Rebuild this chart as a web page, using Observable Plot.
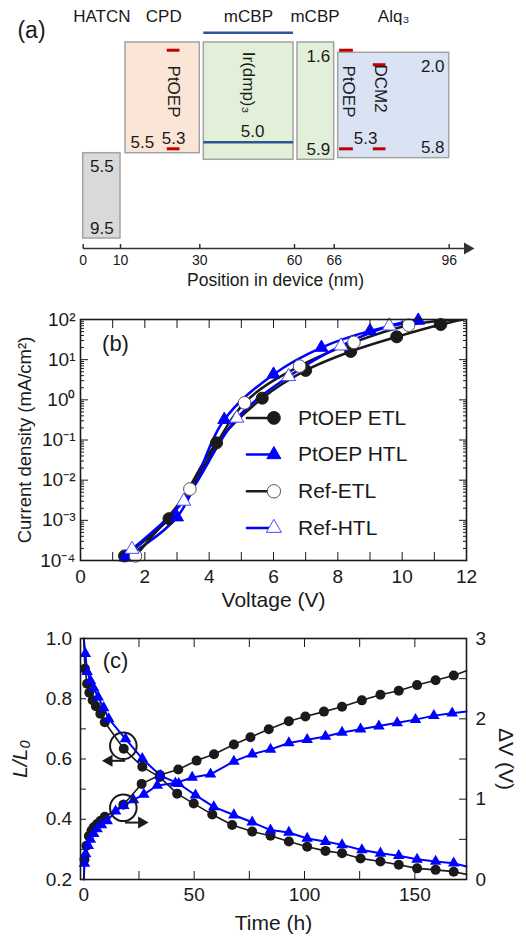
<!DOCTYPE html>
<html><head><meta charset="utf-8">
<script src="https://cdn.jsdelivr.net/npm/d3@7"></script>
<script src="https://cdn.jsdelivr.net/npm/@observablehq/plot@0.6"></script>
<style>
body{margin:0;background:#fff;}
#chart{width:526px;}
#chart svg{display:block;}
</style></head><body><div id="chart"></div>
<script>
// ================= Panel (a): energy diagram =================
const layerNames = ["HATCN", "CPD", "mCBP", "mCBP", "Alq₃"];
const layerStart = [0, 10, 30, 60, 66];      // nm
const layerEnd = [10, 30, 60, 66, 96];       // nm
const layerTop = [5.5, 1.6, 1.6, 1.6, 2.0];  // eV (LUMO)
const layerBottom = [9.5, 5.5, 5.9, 5.9, 5.8]; // eV (HOMO)
const layerLabelX = [5, 20.9, 45.4, 63.1, 81.5];
const positionTicks = [0, 10, 30, 60, 66, 96];

const dopantNames = ["PtOEP", "Ir(dmp)₃", "PtOEP", "DCM2"];
const dopantStart = [21.8, 30, 67.4, 76.2];
const dopantEnd = [25, 60, 71, 79.5];
const dopantLumo = [1.9, 1.2, 1.9, 2.4];
const dopantHomo = [5.3, 5.0, 5.3, 5.3];
const dopantLabelX = [23.4, 45.4, 69.6, 78.1];
const dopantLabelE = [3.3, 3.0, 3.3, 3.2];

const levelText = ["5.5", "9.5", "5.5", "5.3", "5.0", "1.6", "5.9", "2.0", "5.8", "5.3"];
const levelX = [5, 5, 15.5, 23.4, 46.7, 63.6, 63.6, 91.7, 91.7, 74.2];
const levelE = [5.5, 9.5, 5.5, 5.3, 5.0, 1.6, 5.9, 2.0, 5.8, 5.3];
const levelSide = ["below", "above", "above", "above", "above", "below", "above", "below", "above", "above"];

// styles (a)
const layerFill = ["#d9d9d9", "#fbe5d6", "#e2efd9", "#e2efd9", "#dae3f3"];
const layerInsetL = [0, 5, 4, 3, 4];
const layerInsetR = [0, 0, 1, 0, 0];

// ================= Panel (b): J-V =================
const etlV = [1.37, 2.75, 4.23, 5.65, 7.0, 8.4, 9.83, 11.2];
const etlJ = [1.3e-4, 1.1e-3, 8.5e-2, 1.1, 5.4, 16, 37, 75];
const htlV = [1.4, 3.0, 4.47, 6.0, 7.49, 9.0, 10.5];
const htlJ = [1.2e-4, 1.2e-3, 0.32, 4.3, 20, 52, 95];
const refEtlV = [1.71, 3.40, 5.1, 6.81, 8.5, 10.2];
const refEtlJ = [1.3e-4, 6e-3, 0.84, 6.9, 27, 72];
const refHtlV = [1.6, 3.21, 4.86, 6.47, 8.1, 9.6];
const refHtlJ = [1.9e-4, 3e-3, 0.35, 3.8, 22, 69];
// where each curve leaves the frame at the top
const curveEndV = [11.9, 11.3, 11.7, 11.2];
const curveEndJ = [100, 150, 100, 130];
const seriesNames = ["PtOEP ETL", "PtOEP HTL", "Ref-ETL", "Ref-HTL"];
const decades = [1e-4, 1e-3, 1e-2, 1e-1, 1, 10, 100];
const voltTicks = [0,1,2,3,4,5,6,7,8,9,10,11,12];

// ================= Panel (c): lifetime =================
const decayEtlT = [0.5,1.5,2.5,4,5.5,7.5,9.5,18.1,26.5,34.4,42.3,49.8,58.2,67.2,76.3,84.6,92.9,101.2,109.5,117,125.4,134.4,142.7,151,159.4,167.6];
const decayEtlL = [0.90,0.85,0.82,0.795,0.775,0.75,0.722,0.634,0.574,0.54,0.485,0.452,0.416,0.381,0.359,0.345,0.326,0.309,0.295,0.287,0.27,0.26,0.249,0.237,0.232,0.226];
const decayHtlT = [0.7,1.5,3,4.5,6.5,9,11.3,18.9,26.5,34.7,43,50.6,58.9,68,76.3,84.6,92.9,101.2,109.5,117,126,134.4,142.7,151,159.4,167.6];
const decayHtlL = [0.95,0.89,0.86,0.835,0.805,0.77,0.733,0.667,0.601,0.545,0.518,0.48,0.441,0.414,0.39,0.364,0.356,0.336,0.326,0.315,0.298,0.287,0.279,0.267,0.26,0.254];
const riseEtlT = [0.3,1.2,2.3,3.5,4.5,6,7.6,9.5,17.9,26.2,34.5,42.8,51.1,59,68,75.5,83.8,92.9,100.4,108.8,117,126,134.4,142.7,151,159.4,167.6];
const riseEtlV = [0.25,0.42,0.54,0.61,0.65,0.69,0.73,0.78,0.93,1.19,1.30,1.37,1.48,1.56,1.68,1.77,1.87,1.97,2.03,2.09,2.15,2.23,2.30,2.35,2.42,2.48,2.54];
const riseHtlT = [0.3,0.8,2,3,4.5,6,8,10.6,14.4,18.1,22.5,27.2,33.3,41.5,49.1,57.4,68,76.3,84.6,92.9,101.2,109.5,117,125.4,133.7,142,150.3,158.6,166.9];
const riseHtlV = [0.2,0.32,0.42,0.5,0.57,0.63,0.68,0.73,0.85,0.92,0.99,1.06,1.17,1.2,1.27,1.31,1.47,1.56,1.62,1.70,1.74,1.78,1.83,1.87,1.91,1.95,1.99,2.04,2.07];
// curve start / end points (t, value)
const decayStart = [0, 1.0];
const decayEtlEnd = [173.4, 0.217];
const decayHtlEnd = [173.4, 0.243];
const riseStart = [0, 0];
const riseEtlEnd = [173.4, 2.6];
const riseHtlEnd = [173.4, 2.09];
const timeTicks = [0,25,50,75,100,125,150];
const lumTicks = [0.2,0.3,0.4,0.5,0.6,0.7,0.8,0.9,1.0];
const dvTicks = [0,0.5,1,1.5,2,2.5,3];
// annotation circles and arrows (t, L/L0)
const circleT = [17.9, 17.9];
const circleL = [0.644, 0.438];
const arrowShaftT1 = [19, 18.9];
const arrowShaftT2 = [12.8, 24.9];
const arrowHeadT = [11.4, 26.2];
const arrowL = [0.594, 0.389];
const arrowDir = [-90, 90];

// ---------------------------------------------------------------
const FONT = "'Liberation Sans', Arial, Helvetica, sans-serif";
const BLUE = "#0000ff";
const INK = "#1a1a1a";
const baseStyle = {fontFamily: FONT, fontSize: "15px", color: INK, background: "white", overflow: "visible"};
const chart = document.getElementById("chart");
const lineShape = {draw(ctx, l) { ctx.moveTo(0, l / 2); ctx.lineTo(0, -l / 2); }};
const C = {textAnchor: "middle", lineAnchor: "middle"};

// ---------- (a)
{
  const idx = layerNames.map((_, i) => i);
  const marks = [];
  idx.forEach(i => marks.push(Plot.rect([i], {
    x1: () => layerStart[i], x2: () => layerEnd[i], y1: () => layerTop[i], y2: () => layerBottom[i],
    fill: layerFill[i], stroke: "#a3a3a3", strokeWidth: 1.5,
    insetLeft: layerInsetL[i], insetRight: layerInsetR[i]
  })));
  // Ir(dmp)3 levels (blue)
  marks.push(Plot.ruleY([dopantLumo[1], dopantHomo[1]], {x1: dopantStart[1], x2: dopantEnd[1], insetLeft: 4, insetRight: 1, stroke: "#2f5597", strokeWidth: 2.5}));
  // PtOEP / DCM2 levels (red)
  [0, 2, 3].forEach(i => marks.push(Plot.ruleY([dopantLumo[i], dopantHomo[i]], {x1: dopantStart[i], x2: dopantEnd[i], stroke: "#c00000", strokeWidth: 3})));
  const lv = levelText.map((t, i) => ({t, x: levelX[i], e: levelE[i], side: levelSide[i]}));
  marks.push(Plot.text(lv.filter(d => d.side === "below"), {x: "x", y: "e", text: "t", lineAnchor: "top", dy: 7, fontSize: 17}));
  marks.push(Plot.text(lv.filter(d => d.side === "above"), {x: "x", y: "e", text: "t", lineAnchor: "bottom", dy: -5, fontSize: 17}));
  marks.push(Plot.text(dopantNames, {x: (d, i) => dopantLabelX[i], y: (d, i) => dopantLabelE[i], rotate: 90, fontSize: 17}));
  marks.push(Plot.text(layerNames, {x: (d, i) => layerLabelX[i], frameAnchor: "top", dy: 16, fontSize: 17, ...C}));
  marks.push(Plot.text(["(a)"], {frameAnchor: "top-left", dx: -52, dy: 30, fontSize: 23, ...C}));
  marks.push(Plot.frame({anchor: "bottom", stroke: "#333", strokeWidth: 1.5}));
  marks.push(Plot.dot([0], {frameAnchor: "bottom-right", symbol: "triangle", rotate: 90, r: 4.5, fill: "#333", stroke: "none"}));
  marks.push(Plot.axisX({ticks: positionTicks, tickSize: -4, tickPadding: 11, tickFormat: d => d, fontSize: 14, label: null, stroke: "#333", strokeWidth: 1.5}));
  marks.push(Plot.text(["Position in device (nm)"], {frameAnchor: "bottom", dy: 32, fontSize: 17.5, ...C}));
  chart.append(Plot.plot({
    width: 526, height: 290,
    marginLeft: 83, marginRight: 59, marginTop: 0, marginBottom: 42,
    x: {type: "linear", domain: positionTicks, range: [82.7, 120, 199.3, 294, 333.7, 448.7]},
    y: {type: "linear", domain: [1.2, 1.6, 2.0, 5.0, 5.5, 5.9, 9.5], range: [32.3, 42, 52.3, 141.7, 152.7, 159.3, 238], axis: null},
    style: baseStyle,
    marks
  }));
}

// ---------- (b)
{
  const sup = {"-": "⁻", "0": "⁰", "1": "¹", "2": "²", "3": "³", "4": "⁴"};
  const fmtPow = d => "10" + String(Math.round(Math.log10(d))).split("").map(c => sup[c]).join("");
  const minorJ = [];
  for (let e = -4; e < 2; e++) for (let m = 2; m < 10; m++) minorJ.push(m * Math.pow(10, e));
  const Vs = [etlV, htlV, refEtlV, refHtlV];
  const Js = [etlJ, htlJ, refEtlJ, refHtlJ];
  const lineColor = [INK, BLUE, INK, BLUE];
  const symbols = ["circle", "triangle", "circle", "triangle"];
  const fills = [INK, BLUE, "white", "white"];
  const mStroke = [INK, BLUE, "#555", "#4a4aff"];
  const mR = [6, 4.8, 6.3, 5.2];
  const marks = [];
  seriesNames.forEach((name, s) => {
    const pts = Vs[s].map((v, i) => ({v, j: Js[s][i]}));
    const curve = pts.concat([{v: curveEndV[s], j: curveEndJ[s]}]);
    marks.push(Plot.line(curve, {x: "v", y: "j", stroke: lineColor[s], strokeWidth: 2.5, curve: "catmull-rom", clip: true}));
  });
  seriesNames.forEach((name, s) => {
    const pts = Vs[s].map((v, i) => ({v, j: Js[s][i]}));
    marks.push(Plot.dot(pts, {x: "v", y: "j", symbol: symbols[s], r: mR[s], fill: fills[s], stroke: mStroke[s], strokeWidth: 1}));
  });
  // legend
  seriesNames.forEach((name, s) => {
    const dy = 98.4 + s * 36.7;
    marks.push(Plot.vector([name], {frameAnchor: "top-left", dx: 193.4, dy, length: 27, rotate: 90, anchor: "middle", shape: lineShape, stroke: lineColor[s], strokeWidth: 2.5}));
    marks.push(Plot.dot([name], {frameAnchor: "top-left", dx: 193.4, dy, symbol: symbols[s], r: mR[s] + 0.4, fill: fills[s], stroke: mStroke[s], strokeWidth: 1}));
    marks.push(Plot.text([name], {frameAnchor: "top-left", dx: 217.5, dy, textAnchor: "start", lineAnchor: "middle", fontSize: 21}));
  });
  marks.push(Plot.frame({stroke: INK, strokeWidth: 1.6}));
  marks.push(Plot.axisY({ticks: decades, anchor: "left", tickSize: -8, tickPadding: 13, tickFormat: fmtPow, fontSize: 19, label: null}));
  marks.push(Plot.axisY({ticks: minorJ, anchor: "left", tickSize: -4, tickFormat: () => "", label: null}));
  marks.push(Plot.axisY({ticks: decades, anchor: "right", tickSize: -8, tickFormat: () => "", label: null}));
  marks.push(Plot.axisY({ticks: minorJ, anchor: "right", tickSize: -4, tickFormat: () => "", label: null}));
  marks.push(Plot.axisX({ticks: voltTicks, anchor: "bottom", tickSize: -8, tickPadding: 17, tickFormat: d => (d % 2 === 0 ? d : ""), fontSize: 19, label: null}));
  marks.push(Plot.axisX({ticks: voltTicks, anchor: "top", tickSize: -8, tickFormat: () => "", label: null}));
  marks.push(Plot.text(["Voltage (V)"], {frameAnchor: "bottom", dy: 40, fontSize: 21, ...C}));
  marks.push(Plot.text(["Current density (mA/cm²)"], {frameAnchor: "left", dx: -55, rotate: -90, fontSize: 18.5, ...C}));
  marks.push(Plot.text(["(b)"], {frameAnchor: "top-left", dx: 35, dy: 24, fontSize: 22, ...C}));
  chart.append(Plot.plot({
    width: 526, height: 315,
    marginLeft: 80, marginRight: 60, marginTop: 29, marginBottom: 45,
    x: {domain: [0, 12]},
    y: {type: "log", domain: [1e-4, 1e2]},
    style: baseStyle,
    marks
  }));
}

// ---------- (c)
{
  const dvToL = v => 0.2 + v * 0.8 / 3;
  const mk = (T, Y) => T.map((t, i) => ({t, y: Y[i]}));
  const decE = mk(decayEtlT, decayEtlL);
  const decH = mk(decayHtlT, decayHtlL);
  const riseE = mk(riseEtlT, riseEtlV);
  const riseH = mk(riseHtlT, riseHtlV);
  const pt = p => ({t: p[0], y: p[1]});
  const marks = [
    Plot.line([pt(decayStart), ...decE, pt(decayEtlEnd)], {x: "t", y: "y", stroke: INK, strokeWidth: 1.6}),
    Plot.line([pt(decayStart), ...decH, pt(decayHtlEnd)], {x: "t", y: "y", stroke: BLUE, strokeWidth: 2}),
    Plot.line([pt(riseStart), ...riseE, pt(riseEtlEnd)], {x: "t", y: d => dvToL(d.y), stroke: INK, strokeWidth: 1.6}),
    Plot.line([pt(riseStart), ...riseH, pt(riseHtlEnd)], {x: "t", y: d => dvToL(d.y), stroke: BLUE, strokeWidth: 2}),
    Plot.dot(decE, {x: "t", y: "y", r: 5, fill: INK}),
    Plot.dot(riseE, {x: "t", y: d => dvToL(d.y), r: 5, fill: INK}),
    Plot.dot(decH, {x: "t", y: "y", symbol: "triangle", r: 4.3, fill: BLUE}),
    Plot.dot(riseH, {x: "t", y: d => dvToL(d.y), symbol: "triangle", r: 4.3, fill: BLUE}),
    // annotations
    Plot.dot(circleT, {x: d => d, y: (d, i) => circleL[i], r: 13.3, fill: "none", stroke: INK, strokeWidth: 2}),
    Plot.ruleY(arrowL, {y: d => d, x1: (d, i) => arrowShaftT1[i], x2: (d, i) => arrowShaftT2[i], stroke: INK, strokeWidth: 2}),
    Plot.dot(arrowL, {x: (d, i) => arrowHeadT[i], y: d => d, symbol: "triangle", rotate: (d, i) => arrowDir[i], r: 4.5, fill: INK}),
    Plot.frame({stroke: INK, strokeWidth: 1.6}),
    Plot.axisY({ticks: lumTicks, anchor: "left", tickSize: -6, tickPadding: 14.3, tickFormat: d => (Math.round(d * 10) % 2 === 0 ? d.toFixed(1) : ""), fontSize: 19, label: null}),
    Plot.axisY({ticks: dvTicks.map(dvToL), anchor: "right", tickSize: -8, tickPadding: 17, tickFormat: d => { const v = Math.round((d - 0.2) * 3 / 0.8 * 2) / 2; return Number.isInteger(v) ? String(v) : ""; }, fontSize: 19, label: null}),
    Plot.axisX({ticks: timeTicks, anchor: "bottom", tickSize: -8, tickPadding: 16, tickFormat: d => (d % 50 === 0 ? d : ""), fontSize: 19, label: null}),
    Plot.axisX({ticks: timeTicks, anchor: "top", tickSize: -8, tickFormat: () => "", label: null}),
    Plot.text(["Time (h)"], {frameAnchor: "bottom", dy: 44, fontSize: 21, ...C}),
    Plot.text(["L/L₀"], {frameAnchor: "left", dx: -60, rotate: -90, fontSize: 21, fontStyle: "italic", ...C}),
    Plot.text(["ΔV (V)"], {frameAnchor: "right", dx: 39, rotate: 90, fontSize: 21, ...C}),
    Plot.text(["(c)"], {frameAnchor: "top-left", dx: 35, dy: 22, fontSize: 22, ...C})
  ];
  chart.append(Plot.plot({
    width: 526, height: 332,
    marginLeft: 80, marginRight: 60, marginTop: 33, marginBottom: 58,
    x: {domain: [-1.5, 173.4]},
    y: {domain: [0.2, 1.0]},
    style: baseStyle,
    marks
  }));
}
</script>
</body></html>
